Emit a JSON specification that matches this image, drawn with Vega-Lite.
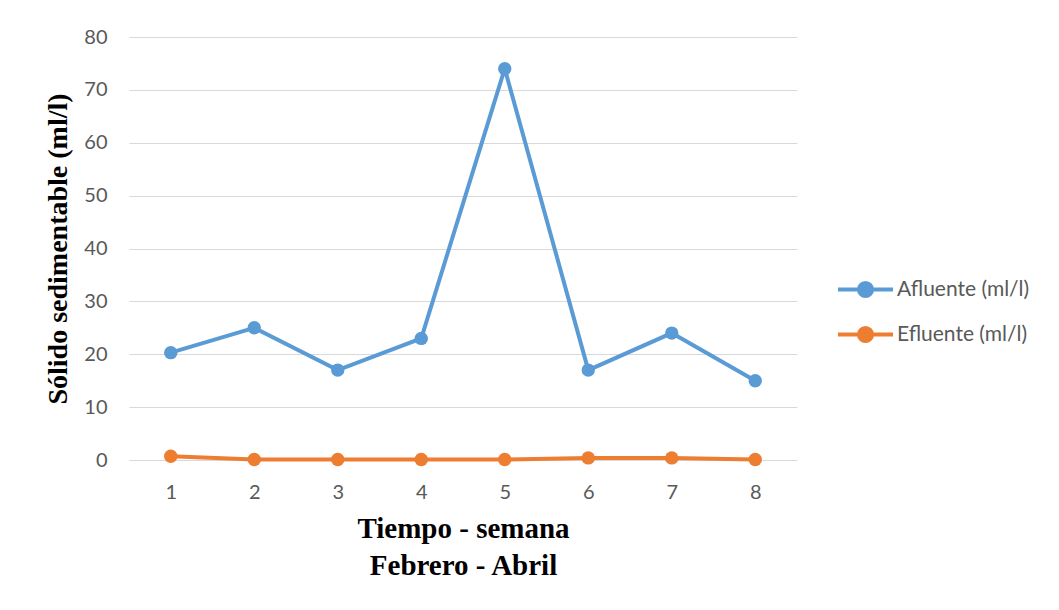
{
  "$schema": "https://vega.github.io/schema/vega-lite/v6.json",
  "autosize": "none",
  "width": 668,
  "height": 423,
  "padding": {"left": 129, "top": 37, "right": 262, "bottom": 150},
  "background": "white",
  "data": {
    "values": [
      {"semana": "1", "serie": "Afluente (ml/l)", "valor": 20.3},
      {"semana": "2", "serie": "Afluente (ml/l)", "valor": 25.0},
      {"semana": "3", "serie": "Afluente (ml/l)", "valor": 17.0},
      {"semana": "4", "serie": "Afluente (ml/l)", "valor": 23.0},
      {"semana": "5", "serie": "Afluente (ml/l)", "valor": 74.0},
      {"semana": "6", "serie": "Afluente (ml/l)", "valor": 17.0},
      {"semana": "7", "serie": "Afluente (ml/l)", "valor": 24.0},
      {"semana": "8", "serie": "Afluente (ml/l)", "valor": 15.0},
      {"semana": "1", "serie": "Efluente (ml/l)", "valor": 0.7},
      {"semana": "2", "serie": "Efluente (ml/l)", "valor": 0.1},
      {"semana": "3", "serie": "Efluente (ml/l)", "valor": 0.1},
      {"semana": "4", "serie": "Efluente (ml/l)", "valor": 0.1},
      {"semana": "5", "serie": "Efluente (ml/l)", "valor": 0.1},
      {"semana": "6", "serie": "Efluente (ml/l)", "valor": 0.4},
      {"semana": "7", "serie": "Efluente (ml/l)", "valor": 0.4},
      {"semana": "8", "serie": "Efluente (ml/l)", "valor": 0.1}
    ]
  },
  "mark": {
    "type": "line",
    "strokeWidth": 4,
    "point": {"filled": true, "size": 180, "opacity": 1}
  },
  "encoding": {
    "x": {
      "field": "semana",
      "type": "ordinal",
      "scale": {"type": "point", "padding": 0.5},
      "axis": {
        "title": ["Tiempo - semana", "Febrero - Abril"],
        "titleFont": "Liberation Serif",
        "titleFontSize": 29,
        "titleFontWeight": "bold",
        "titleColor": "#000000",
        "titlePadding": 12,
        "titleLineHeight": 37,
        "labelAngle": 0,
        "labelFont": "Lato",
        "labelFontSize": 20,
        "labelColor": "#595959",
        "labelPadding": 22,
        "ticks": false,
        "domain": false,
        "grid": false
      }
    },
    "y": {
      "field": "valor",
      "type": "quantitative",
      "scale": {"domain": [0, 80], "nice": false},
      "axis": {
        "title": "Sólido sedimentable (ml/l)",
        "titleFont": "Liberation Serif",
        "titleFontSize": 28,
        "titleFontWeight": "bold",
        "titleColor": "#000000",
        "titlePadding": 11,
        "values": [0, 10, 20, 30, 40, 50, 60, 70, 80],
        "labelFont": "Lato",
        "labelFontSize": 20,
        "labelColor": "#595959",
        "labelPadding": 22,
        "ticks": false,
        "domain": false,
        "grid": true,
        "gridColor": "#d9d9d9",
        "gridWidth": 1
      }
    },
    "color": {
      "field": "serie",
      "type": "nominal",
      "scale": {
        "domain": ["Afluente (ml/l)", "Efluente (ml/l)"],
        "range": ["#5B9BD5", "#ED7D31"]
      },
      "legend": {
        "title": null,
        "orient": "none",
        "legendX": 707,
        "legendY": 223,
        "labelFont": "Lato",
        "labelFontSize": 21,
        "labelColor": "#595959",
        "symbolType": "M-1,0L1,0M-0.24,0A0.24,0.24 0 1,1 0.24,0A0.24,0.24 0 1,1 -0.24,0Z",
        "symbolSize": 3025,
        "symbolStrokeWidth": 4,
        "rowPadding": -11,
        "labelOffset": 2
      }
    }
  },
  "config": {"view": {"stroke": null}}
}
